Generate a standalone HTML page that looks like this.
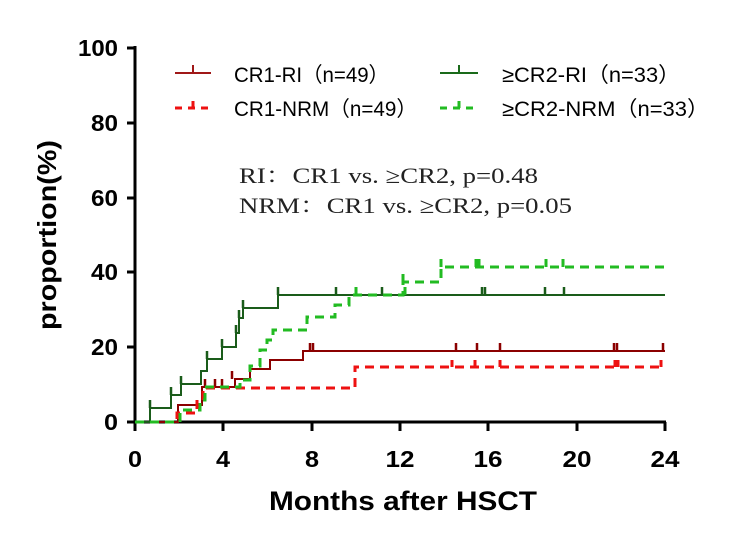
<!DOCTYPE html>
<html><head><meta charset="utf-8"><style>body{margin:0;background:#fff}</style></head><body>
<svg width="750" height="543" viewBox="0 0 750 543" xmlns="http://www.w3.org/2000/svg" font-family="Liberation Sans, sans-serif">
<rect width="750" height="543" fill="#fff"/>
<g stroke="#000" stroke-width="3" fill="none">
<path d="M135,46 V422 H666"/>
<path d="M127,48 H135 M127,123 H135 M127,198 H135 M127,272 H135 M127,347 H135 M127,422 H135"/>
<path d="M135,422 V431 M223,422 V431 M312,422 V431 M400,422 V431 M488,422 V431 M577,422 V431 M665,422 V431"/>
</g>
<g font-weight="bold" font-size="23" text-anchor="end">
<text x="118" y="56" textLength="40" lengthAdjust="spacingAndGlyphs">100</text>
<text x="118" y="131" textLength="27" lengthAdjust="spacingAndGlyphs">80</text>
<text x="118" y="206" textLength="27" lengthAdjust="spacingAndGlyphs">60</text>
<text x="118" y="280" textLength="27" lengthAdjust="spacingAndGlyphs">40</text>
<text x="118" y="355" textLength="27" lengthAdjust="spacingAndGlyphs">20</text>
<text x="118" y="430" textLength="14" lengthAdjust="spacingAndGlyphs">0</text>
</g>
<g font-weight="bold" font-size="23" text-anchor="middle">
<text x="135" y="467" textLength="14" lengthAdjust="spacingAndGlyphs">0</text>
<text x="223" y="467" textLength="14" lengthAdjust="spacingAndGlyphs">4</text>
<text x="312" y="467" textLength="14" lengthAdjust="spacingAndGlyphs">8</text>
<text x="400" y="467" textLength="29" lengthAdjust="spacingAndGlyphs">12</text>
<text x="488" y="467" textLength="29" lengthAdjust="spacingAndGlyphs">16</text>
<text x="577" y="467" textLength="29" lengthAdjust="spacingAndGlyphs">20</text>
<text x="665" y="467" textLength="29" lengthAdjust="spacingAndGlyphs">24</text>
</g>
<text x="403" y="510" font-weight="bold" font-size="27" text-anchor="middle" textLength="268" lengthAdjust="spacingAndGlyphs">Months after HSCT</text>
<text transform="translate(56,235) rotate(-90)" font-weight="bold" font-size="26" text-anchor="middle" textLength="190" lengthAdjust="spacingAndGlyphs">proportion(%)</text>
<!-- curves -->
<path d="M135,422 H178 V405 H202 V387 H235 V379 H250 V369 H270 V360 H303 V351 H665" stroke="#8b0000" stroke-width="2" fill="none"/>
<path d="M310,351v-8M313,351v-8M456,351v-8M477,351v-8M500,351v-8M614,351v-8M617,351v-8M663,351v-8M205,387v-8M215,387v-8M222,387v-8M232,379v-8" stroke="#8b0000" stroke-width="2.5"/>
<path d="M135,422 H177 V413 H197 V400 H203 V388 H355 V367 H665" stroke="#ee1111" stroke-width="3" stroke-dasharray="9,6" fill="none"/>
<path d="M452,367v-7M475,367v-7M500,367v-7M615,367v-7M618,367v-7M661,367v-7" stroke="#ee1111" stroke-width="3"/>
<path d="M135,422 H150 V408 H171 V395 H181 V384 H201 V371 H207 V359 H222 V347 H236 V333 H239 V318 H243 V308 H278 V295 H665" stroke="#1a5c1a" stroke-width="2" fill="none"/>
<path d="M150,408v-8M171,395v-8M181,384v-8M207,359v-8M222,347v-8M236,333v-8M239,318v-8M243,308v-8M278,295v-8M336,295v-8M482,295v-8M485,295v-8M545,295v-8M564,295v-8M382,295v-8" stroke="#1a5c1a" stroke-width="2.5"/>
<path d="M135,422 H180 V410 H200 V400 H205 V387 H240 V380 H250 V366 H260 V350 H267 V340 H273 V330 H307 V317 H335 V305 H349 V295 H403 V282 H441 V267 H665" stroke="#22bb22" stroke-width="3" stroke-dasharray="9,6" fill="none"/>
<path d="M403,282v-8M441,267v-8M476,267v-8M479,267v-8M546,267v-8M563,267v-8M405,295v-8M356,295v-8" stroke="#22bb22" stroke-width="3"/>
<!-- legend -->
<path d="M175,73 H211 M193,73 v-8" stroke="#a01818" stroke-width="2"/>
<path d="M175,108 H211 M193,108 v-7" stroke="#ee1111" stroke-width="3" stroke-dasharray="7,6"/>
<path d="M440,73 H478 M459,73 v-8" stroke="#1a6a1a" stroke-width="2"/>
<path d="M440,108 H478 M459,108 v-7" stroke="#22bb22" stroke-width="3" stroke-dasharray="7,6"/>
<g font-size="21" font-family="Liberation Sans, Noto Sans CJK SC, sans-serif">
<text x="234" y="82" textLength="155" lengthAdjust="spacingAndGlyphs">CR1-RI（n=49）</text>
<text x="234" y="116" textLength="183" lengthAdjust="spacingAndGlyphs">CR1-NRM（n=49）</text>
<text x="502" y="82" textLength="178" lengthAdjust="spacingAndGlyphs">≥CR2-RI（n=33）</text>
<text x="502" y="116" textLength="207" lengthAdjust="spacingAndGlyphs">≥CR2-NRM（n=33）</text>
</g>
<g font-size="22" font-family="Liberation Serif, Noto Serif CJK SC, serif" fill="#222">
<text x="239" y="183" textLength="299" lengthAdjust="spacingAndGlyphs">RI：CR1 vs. ≥CR2, p=0.48</text>
<text x="239" y="213" textLength="333" lengthAdjust="spacingAndGlyphs">NRM：CR1 vs. ≥CR2, p=0.05</text>
</g>
</svg>
</body></html>
